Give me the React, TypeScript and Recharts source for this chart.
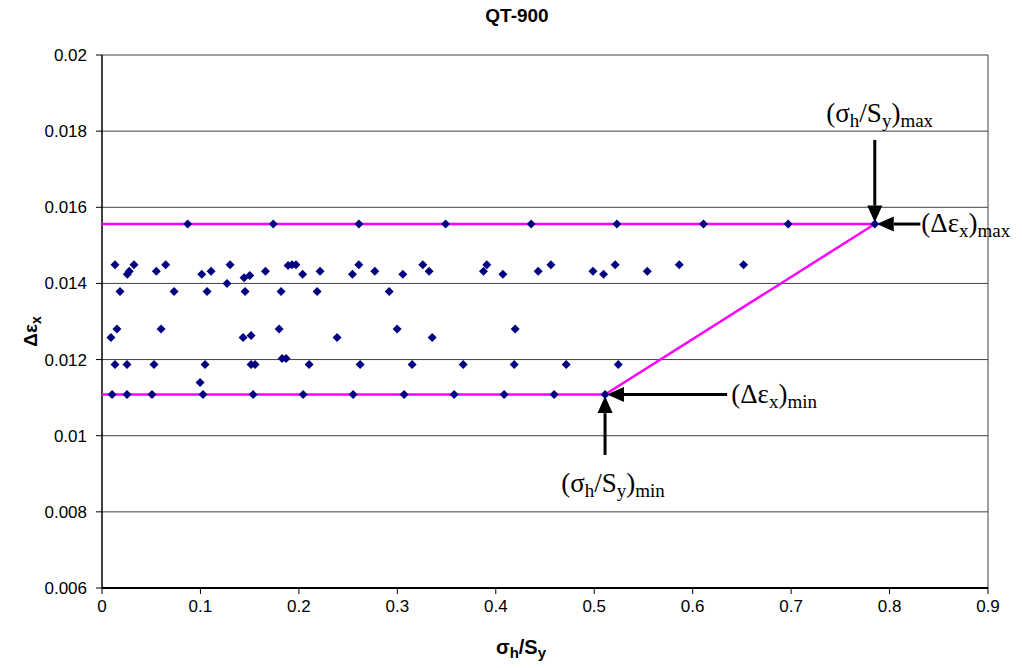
import {
  CartesianGrid,
  ReferenceDot,
  ReferenceLine,
  Scatter,
  ScatterChart,
  XAxis,
  YAxis,
} from "recharts";

// axis ticks
const xTicks = [0, 0.1, 0.2, 0.3, 0.4, 0.5, 0.6, 0.7, 0.8, 0.9];
const yTicks = [0.006, 0.008, 0.01, 0.012, 0.014, 0.016, 0.018, 0.02];

// measured points: sigma_h / S_y
const stressRatio = [
  // upper row
  0.087, 0.174, 0.261, 0.349, 0.436, 0.523, 0.611, 0.697, 0.785,
  // bottom row
  0.0102, 0.0254, 0.0508, 0.1026, 0.1535, 0.2043, 0.2551, 0.3069, 0.3577,
  0.4085, 0.4593, 0.511,
  // ~0.0119
  0.0132, 0.0254, 0.0528, 0.1047, 0.1514, 0.1555, 0.2104, 0.2622, 0.315,
  0.3669, 0.4187, 0.4715, 0.5244,
  // odd ones
  0.0996, 0.183, 0.187, 0.127,
  // ~0.0126
  0.0091, 0.1433, 0.1514, 0.2388, 0.3354,
  // ~0.0128
  0.0152, 0.06, 0.1799, 0.2998, 0.4197,
  // ~0.0138
  0.0183, 0.0732, 0.1067, 0.1453, 0.1819, 0.2185, 0.2917,
  // ~0.0143 band
  0.0132, 0.0257, 0.0277, 0.0325, 0.0552, 0.0647, 0.1013, 0.1108, 0.1301,
  0.1443, 0.1501, 0.166, 0.189, 0.193, 0.197, 0.2038, 0.2215, 0.2544,
  0.2609, 0.2771, 0.3056, 0.3259, 0.3323, 0.3875, 0.3909, 0.4072, 0.4431,
  0.456, 0.4987, 0.5095, 0.5213, 0.5539, 0.5864, 0.6517,
];

// measured points: delta eps_x
const strainRange = [
  0.01556, 0.01556, 0.01556, 0.01556, 0.01556, 0.01556, 0.01556, 0.01556,
  0.01556,
  0.01108, 0.01108, 0.01108, 0.01108, 0.01108, 0.01108, 0.01108, 0.01108,
  0.01108, 0.01108, 0.01108, 0.01108,
  0.01187, 0.01187, 0.01187, 0.01187, 0.01187, 0.01187, 0.01187, 0.01187,
  0.01187, 0.01187, 0.01187, 0.01187, 0.01187,
  0.0114, 0.01203, 0.01203, 0.014,
  0.01258, 0.01258, 0.01263, 0.01258, 0.01258,
  0.0128, 0.0128, 0.0128, 0.0128, 0.0128,
  0.01379, 0.01379, 0.01379, 0.01379, 0.01379, 0.01379, 0.01379,
  0.01449, 0.01424, 0.01432, 0.01449, 0.01432, 0.01449, 0.01424, 0.01432,
  0.01449, 0.01415, 0.01421, 0.01432, 0.01447, 0.01449, 0.01449, 0.01424,
  0.01432, 0.01424, 0.01449, 0.01432, 0.01424, 0.01449, 0.01432, 0.01432,
  0.01449, 0.01424, 0.01432, 0.01449, 0.01432, 0.01424, 0.01449, 0.01432,
  0.01449, 0.01449,
];

// pink envelope lines
const upperLineX = [0, 0.785];
const upperLineY = [0.01556, 0.01556];
const lowerLineX = [0, 0.511, 0.785];
const lowerLineY = [0.01108, 0.01108, 0.01556];

const maxPoint = { x: 0.785, y: 0.01556 };
const minPoint = { x: 0.511, y: 0.01108 };

const points = stressRatio.map((x, i) => ({ x, y: strainRange[i] }));
const upperLine = upperLineX.map((x, i) => ({ x, y: upperLineY[i] }));
const lowerLine = lowerLineX.map((x, i) => ({ x, y: lowerLineY[i] }));

const SANS = "Liberation Sans, Arial, sans-serif";
const SERIF = "Liberation Serif, Times New Roman, serif";
const BIG = 27;
const SMALL = 19;

const Diamond = (props: any) => {
  const { cx, cy } = props;
  const r = 4.5;
  return (
    <polygon
      points={`${cx},${cy - r} ${cx + r},${cy} ${cx},${cy + r} ${cx - r},${cy}`}
      fill="#000080"
    />
  );
};

const Arrow = (props: any) => {
  const { x1, y1, x2, y2 } = props;
  const dx = x2 - x1;
  const dy = y2 - y1;
  const len = Math.sqrt(dx * dx + dy * dy) || 1;
  const ux = dx / len;
  const uy = dy / len;
  const head = 17;
  const half = 7.5;
  const bx = x2 - ux * head;
  const by = y2 - uy * head;
  return (
    <g>
      <line x1={x1} y1={y1} x2={bx} y2={by} stroke="#000" strokeWidth={3} />
      <polygon
        points={`${x2},${y2} ${bx - uy * half},${by + ux * half} ${bx + uy * half},${by - ux * half}`}
        fill="#000"
      />
    </g>
  );
};

const sub = (t: string) => (
  <tspan fontSize={SMALL} dy={5}>
    {t}
  </tspan>
);
const up = (t: string) => <tspan dy={-5}>{t}</tspan>;

const SigmaLabel = (kind: string, anchor: string) => (props: any) => (
  <text
    x={props.cx}
    y={props.cy}
    fontFamily={SERIF}
    fontSize={BIG}
    textAnchor={anchor}
    fill="#000"
  >
    (σ{sub("h")}
    {up("/S")}
    {sub("y")}
    {up(")")}
    {sub(kind)}
  </text>
);

const StrainLabel = (kind: string) => (props: any) => (
  <text x={props.cx} y={props.cy} fontFamily={SERIF} fontSize={BIG} fill="#000">
    (Δε{sub("x")}
    {up(")")}
    {sub(kind)}
  </text>
);

const NoShape = () => <g />;

export default function App() {
  return (
    <div
      style={{
        position: "absolute",
        left: 0,
        top: 0,
        width: 1030,
        height: 668,
        background: "#fff",
      }}
    >
      <div
        style={{
          position: "absolute",
          top: 5,
          left: 0,
          width: 1034,
          textAlign: "center",
          fontFamily: SANS,
          fontWeight: "bold",
          fontSize: 19,
        }}
      >
        QT-900
      </div>
      <ScatterChart
        width={1030}
        height={668}
        margin={{ top: 55, right: 42, bottom: 0, left: 0 }}
      >
        <CartesianGrid vertical={false} stroke="#404040" strokeWidth={1} />
        <XAxis
          type="number"
          dataKey="x"
          domain={[0, 0.9]}
          ticks={xTicks}
          height={80}
          axisLine={{ stroke: "#000", strokeWidth: 2 }}
          tickLine={{ stroke: "#000" }}
          tickMargin={6}
          tick={{ fill: "#000", fontSize: 17, fontFamily: SANS }}
          label={{
            content: (p: any) => {
              const vb = p.viewBox;
              return (
                <text
                  x={vb.x + vb.width / 2 - 24}
                  y={vb.y + 66}
                  textAnchor="middle"
                  fontFamily={SANS}
                  fontWeight="bold"
                  fontSize={20}
                  fill="#000"
                >
                  σ
                  <tspan fontSize={15} dy={4}>
                    h
                  </tspan>
                  <tspan dy={-4}>/S</tspan>
                  <tspan fontSize={15} dy={4}>
                    y
                  </tspan>
                </text>
              );
            },
          }}
        />
        <YAxis
          type="number"
          dataKey="y"
          domain={[0.006, 0.02]}
          ticks={yTicks}
          width={102}
          axisLine={{ stroke: "#000", strokeWidth: 1.5 }}
          tickLine={{ stroke: "#000" }}
          tickMargin={9}
          tick={{ fill: "#000", fontSize: 17, fontFamily: SANS }}
          label={{
            content: (p: any) => {
              const vb = p.viewBox;
              const cy = vb.y + vb.height / 2 + 10;
              return (
                <text
                  x={37}
                  y={cy}
                  transform={`rotate(-90 37 ${cy})`}
                  textAnchor="middle"
                  fontFamily={SANS}
                  fontWeight="bold"
                  fontSize={19}
                  fill="#000"
                >
                  Δε
                  <tspan fontSize={14} dy={4}>
                    x
                  </tspan>
                </text>
              );
            },
          }}
        />
        <ReferenceLine x={0.9} stroke="#404040" strokeWidth={1} />
        <Scatter
          data={upperLine}
          line={{ stroke: "#FF00FF", strokeWidth: 2.5 }}
          shape={NoShape}
          isAnimationActive={false}
        />
        <Scatter
          data={lowerLine}
          line={{ stroke: "#FF00FF", strokeWidth: 2.5 }}
          shape={NoShape}
          isAnimationActive={false}
        />
        <Scatter data={points} shape={Diamond} isAnimationActive={false} />

        <ReferenceLine
          segment={[
            { x: maxPoint.x, y: 0.01777 },
            { x: maxPoint.x, y: maxPoint.y + 0.00004 },
          ]}
          shape={Arrow}
        />
        <ReferenceLine
          segment={[
            { x: 0.8313, y: maxPoint.y },
            { x: maxPoint.x + 0.002, y: maxPoint.y },
          ]}
          shape={Arrow}
        />
        <ReferenceLine
          segment={[
            { x: 0.635, y: minPoint.y },
            { x: minPoint.x + 0.002, y: minPoint.y },
          ]}
          shape={Arrow}
        />
        <ReferenceLine
          segment={[
            { x: minPoint.x, y: 0.009494 },
            { x: minPoint.x, y: minPoint.y - 0.00004 },
          ]}
          shape={Arrow}
        />

        <ReferenceDot x={0.79} y={0.01824} shape={SigmaLabel("max", "middle")} />
        <ReferenceDot x={0.8323} y={0.01534} shape={StrainLabel("max")} />
        <ReferenceDot x={0.6392} y={0.01087} shape={StrainLabel("min")} />
        <ReferenceDot x={0.4665} y={0.00852} shape={SigmaLabel("min", "start")} />
      </ScatterChart>
    </div>
  );
}
